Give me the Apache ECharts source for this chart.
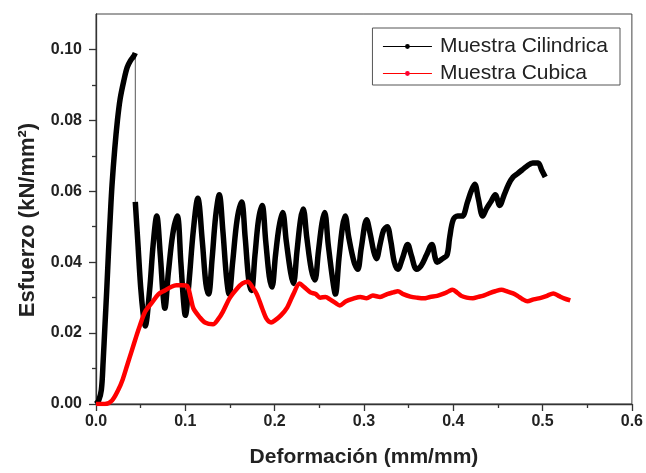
<!DOCTYPE html>
<html>
<head>
<meta charset="utf-8">
<script src="https://cdn.jsdelivr.net/npm/echarts@6/dist/echarts.min.js"></script>
<style>
  html, body { margin: 0; padding: 0; background: #fff; }
  #chart { width: 646px; height: 473px; }
</style>
</head>
<body>
<div id="chart"></div>
<script>
  // Muestra Cilindrica (deformacion, esfuerzo)
  var cylX = [0, 0.003, 0.006, 0.008, 0.010, 0.012, 0.014, 0.016, 0.018, 0.021, 0.024, 0.027, 0.031, 0.035, 0.039, 0.042, 0.044,
    0.044, 0.047, 0.050, 0.053, 0.055,
    0.060, 0.064, 0.068, 0.072, 0.075, 0.077, 0.081, 0.086, 0.091, 0.095, 0.098, 0.100,
    0.104, 0.109, 0.114, 0.119, 0.123, 0.126, 0.130, 0.134, 0.138, 0.142, 0.146, 0.149,
    0.153, 0.158, 0.163, 0.167, 0.171, 0.174, 0.178, 0.182, 0.186, 0.190, 0.194, 0.197,
    0.201, 0.205, 0.209, 0.213, 0.218, 0.221, 0.225, 0.229, 0.232, 0.236, 0.241, 0.245,
    0.249, 0.253, 0.256, 0.260, 0.265, 0.268, 0.272, 0.276, 0.279, 0.283, 0.289, 0.293,
    0.297, 0.303, 0.307, 0.311, 0.314, 0.318, 0.322, 0.326, 0.330, 0.334, 0.338, 0.343,
    0.349, 0.353, 0.359, 0.364, 0.370, 0.376, 0.380, 0.382, 0.388, 0.393, 0.396, 0.400,
    0.405, 0.410, 0.416, 0.420, 0.424, 0.428, 0.433, 0.437, 0.442, 0.447, 0.452, 0.457,
    0.462, 0.467, 0.472, 0.477, 0.482, 0.489, 0.495, 0.499, 0.503];
  var cylY = [0, 0.001, 0.004, 0.012, 0.022, 0.032, 0.043, 0.053, 0.062, 0.072, 0.080, 0.086, 0.091, 0.095, 0.097, 0.098, 0.099,
    0.057, 0.045, 0.033, 0.025, 0.022,
    0.032, 0.045, 0.053, 0.042, 0.031, 0.027, 0.037, 0.048, 0.053, 0.040, 0.029, 0.025,
    0.034, 0.049, 0.058, 0.046, 0.034, 0.031, 0.041, 0.053, 0.059, 0.049, 0.036, 0.031,
    0.040, 0.052, 0.057, 0.047, 0.035, 0.032, 0.042, 0.052, 0.056, 0.046, 0.036, 0.033,
    0.042, 0.050, 0.054, 0.046, 0.037, 0.034, 0.043, 0.052, 0.055, 0.047, 0.038, 0.035,
    0.043, 0.051, 0.054, 0.045, 0.035, 0.031, 0.041, 0.050, 0.053, 0.047, 0.040, 0.038,
    0.044, 0.052, 0.048, 0.043, 0.041, 0.045, 0.049, 0.050, 0.046, 0.040, 0.038, 0.041,
    0.045, 0.042, 0.038, 0.039, 0.042, 0.045, 0.041, 0.040, 0.041, 0.042, 0.047, 0.052,
    0.053, 0.053, 0.057, 0.060, 0.062, 0.058, 0.053, 0.055, 0.057, 0.059, 0.056, 0.059,
    0.062, 0.064, 0.065, 0.066, 0.067, 0.068, 0.068, 0.066, 0.064];
  var cylPeakIndex = 16; // ultimo punto antes de la caida

  // Muestra Cubica
  var cubX = [0, 0.010, 0.018, 0.025, 0.030, 0.035, 0.040, 0.045, 0.049, 0.055, 0.063, 0.070, 0.077, 0.084, 0.090, 0.096,
    0.102, 0.106, 0.109, 0.116, 0.122, 0.131, 0.137, 0.142, 0.150, 0.158, 0.164, 0.170, 0.175, 0.180, 0.186, 0.191,
    0.196, 0.200, 0.207, 0.214, 0.221, 0.228, 0.233, 0.240, 0.246, 0.251, 0.257, 0.262, 0.268, 0.273, 0.280, 0.288,
    0.296, 0.303, 0.310, 0.318, 0.326, 0.333, 0.338, 0.344, 0.352, 0.359, 0.367, 0.374, 0.382, 0.390, 0.395, 0.399,
    0.404, 0.409, 0.415, 0.422, 0.428, 0.433, 0.440, 0.447, 0.454, 0.460, 0.467, 0.472, 0.478, 0.483, 0.490, 0.499,
    0.505, 0.512, 0.518, 0.524, 0.531];
  var cubY = [0, 0, 0.001, 0.004, 0.007, 0.011, 0.015, 0.019, 0.022, 0.026, 0.0287, 0.031, 0.032, 0.033, 0.0335, 0.0335,
    0.0333, 0.030, 0.027, 0.0245, 0.023, 0.0225, 0.024, 0.026, 0.030, 0.0326, 0.034, 0.0345, 0.033, 0.031, 0.027, 0.024,
    0.023, 0.0235, 0.025, 0.0272, 0.031, 0.034, 0.033, 0.0315, 0.031, 0.030, 0.0302, 0.0295, 0.0285, 0.0278, 0.029, 0.0297,
    0.0302, 0.0298, 0.0306, 0.0302, 0.0310, 0.0315, 0.0318, 0.0310, 0.0303, 0.0300, 0.0298, 0.0302, 0.0305, 0.0312, 0.0318, 0.0322,
    0.0315, 0.0305, 0.0300, 0.0298, 0.0302, 0.0305, 0.0312, 0.0318, 0.0322, 0.0318, 0.0312, 0.0305, 0.0295, 0.0290, 0.0295, 0.0300,
    0.0305, 0.0312, 0.0305, 0.0298, 0.0292];

  var xTicks = [0, 0.1, 0.2, 0.3, 0.4, 0.5, 0.6];
  var yTicks = [0, 0.02, 0.04, 0.06, 0.08, 0.10];
  var yMinorTicks = [0.01, 0.03, 0.05, 0.07, 0.09];

  var chart = echarts.init(document.getElementById('chart'));

  function pairs(xs, ys) {
    var out = [];
    for (var i = 0; i < xs.length; i++) out.push([xs[i], ys[i]]);
    return out;
  }

  // linea gruesa con hueco en la caida
  var cylData = pairs(cylX, cylY);
  var cylThick = cylData.slice(0, cylPeakIndex + 1).concat([[cylX[cylPeakIndex], '-']], cylData.slice(cylPeakIndex + 1));
  var cylDrop = cylData.slice(cylPeakIndex, cylPeakIndex + 2);

  var fontFam = 'Liberation Sans, Arial, sans-serif';

  var yAxisBase = {
    type: 'value',
    min: 0,
    max: 0.11,
    interval: 0.01,
    position: 'left',
    splitLine: {show: false}
  };

  chart.setOption({
    animation: false,
    backgroundColor: '#fff',
    grid: {
      left: 96, right: 14, top: 14, bottom: 64,
      show: true, borderColor: '#444', borderWidth: 1
    },
    legend: {
      orient: 'vertical',
      right: 26,
      top: 28,
      padding: [8, 12, 1, 10],
      itemGap: 6,
      itemWidth: 49,
      itemHeight: 6,
      borderColor: '#555',
      borderWidth: 1,
      borderRadius: 0,
      backgroundColor: '#fff',
      data: ['Muestra Cilindrica', 'Muestra Cubica'],
      lineStyle: {width: 1},
      textStyle: {fontFamily: fontFam, fontSize: 21, color: '#222', padding: [0, 0, 0, 3]}
    },
    xAxis: {
      type: 'value',
      min: 0,
      max: 0.6,
      interval: 0.1,
      name: 'Deformación (mm/mm)',
      nameLocation: 'middle',
      nameGap: 43,
      nameTextStyle: {fontFamily: fontFam, fontSize: 21, fontWeight: 'bold', color: '#222'},
      axisLine: {lineStyle: {color: '#333', width: 1.3}},
      axisTick: {length: 7, lineStyle: {color: '#333', width: 1.3}},
      minorTick: {show: true, splitNumber: 2, length: 4, lineStyle: {color: '#333', width: 1.3}},
      splitLine: {show: false},
      axisLabel: {
        margin: 10,
        fontFamily: fontFam, fontSize: 16, fontWeight: 'bold', color: '#222',
        customValues: xTicks,
        formatter: function (v) { return v.toFixed(1); }
      }
    },
    yAxis: [
      Object.assign({}, yAxisBase, {
        name: 'Esfuerzo (kN/mm²)',
        nameLocation: 'middle',
        nameGap: 57,
        nameTextStyle: {fontFamily: fontFam, fontSize: 22, fontWeight: 'bold', color: '#222', padding: [0, 22, 0, 0]},
        axisLine: {show: true, lineStyle: {color: '#333', width: 1.3}},
        axisTick: {show: true, length: 7, customValues: yTicks, lineStyle: {color: '#333', width: 1.3}},
        axisLabel: {
          margin: 14,
          fontFamily: fontFam, fontSize: 16, fontWeight: 'bold', color: '#222',
          customValues: yTicks,
          formatter: function (v) { return v.toFixed(2); }
        }
      }),
      Object.assign({}, yAxisBase, {
        axisLine: {show: false},
        axisTick: {show: true, length: 4, customValues: yMinorTicks, lineStyle: {color: '#333', width: 1.3}},
        axisLabel: {show: false}
      })
    ],
    series: [
      {
        name: 'Muestra Cilindrica',
        type: 'line',
        data: cylThick,
        connectNulls: false,
        smooth: 0.35,
        symbol: 'circle',
        symbolSize: 5,
        showSymbol: false,
        itemStyle: {color: '#000'},
        lineStyle: {color: '#000', width: 5.5, join: 'round'},
        z: 3
      },
      {
        name: 'caida',
        type: 'line',
        data: cylDrop,
        symbol: 'none',
        lineStyle: {color: '#555', width: 1},
        z: 2
      },
      {
        name: 'Muestra Cubica',
        type: 'line',
        data: pairs(cubX, cubY),
        smooth: 0.3,
        symbol: 'circle',
        symbolSize: 5,
        showSymbol: false,
        itemStyle: {color: '#ff0030'},
        lineStyle: {color: '#ff0000', width: 4.5, join: 'round'},
        z: 4
      }
    ]
  });
</script>
</body>
</html>
